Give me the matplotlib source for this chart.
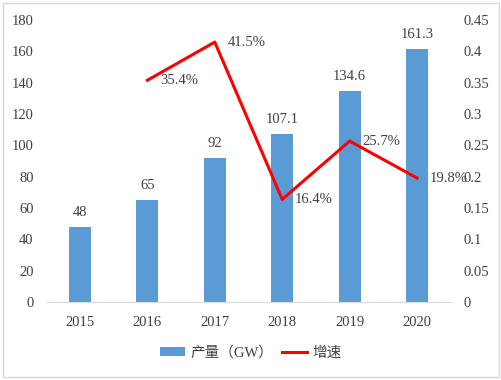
import matplotlib
matplotlib.use("Agg")
import matplotlib.pyplot as plt
from matplotlib.patches import Rectangle
from matplotlib.lines import Line2D
from matplotlib.patches import Patch

years = ["2015", "2016", "2017", "2018", "2019", "2020"]
output_gw = [48, 65, 92, 107.1, 134.6, 161.3]
output_labels = ["48", "65", "92", "107.1", "134.6", "161.3"]
growth_years = ["2016", "2017", "2018", "2019", "2020"]
growth = [0.354, 0.415, 0.164, 0.257, 0.198]
growth_labels = ["35.4%", "41.5%", "16.4%", "25.7%", "19.8%"]
left_ticks = [0, 20, 40, 60, 80, 100, 120, 140, 160, 180]
right_ticks = [0, 0.05, 0.1, 0.15, 0.2, 0.25, 0.3, 0.35, 0.4, 0.45]
right_tick_labels = ["0", "0.05", "0.1", "0.15", "0.2", "0.25", "0.3", "0.35", "0.4", "0.45"]

plt.rcParams['font.family'] = ['Liberation Serif', 'Noto Sans CJK SC']
txt = '#404040'
fig = plt.figure(figsize=(5.02, 3.80), dpi=100)
fig.patches.append(Rectangle((0.006, 0.008), 0.988, 0.984, transform=fig.transFigure,
                             fill=False, edgecolor='#d9d9d9', linewidth=1.0))
ax = fig.add_axes([0.092, 0.205, 0.806, 0.742])
x = list(range(len(years)))
ax.bar(x, output_gw, width=0.33, color='#5b9bd5', zorder=2)
for xi, v, lab in zip(x, output_gw, output_labels):
    ax.annotate(lab, (xi, v), xytext=(0, 6), textcoords='offset points',
                ha='center', va='bottom', fontsize=10.5, color=txt)
ax.set_xlim(-0.5, len(years) - 0.5)
ax.set_ylim(0, 180)
ax.set_yticks(left_ticks)
ax.set_xticks(x)
ax.set_xticklabels(years)
for s in ['top', 'left', 'right']:
    ax.spines[s].set_visible(False)
ax.spines['bottom'].set_color('#d9d9d9')
ax.tick_params(axis='both', length=0, labelsize=10.5, colors=txt, pad=9)
ax.tick_params(axis='x', pad=10)

ax2 = ax.twinx()
gx = [years.index(y) for y in growth_years]
ax2.plot(gx, growth, color='#ff0000', linewidth=2.2, zorder=3)
for xi, v, lab in zip(gx, growth, growth_labels):
    ax2.annotate(lab, (xi, v), xytext=(9, 0), textcoords='offset points',
                 ha='left', va='center', fontsize=10.5, color=txt)
ax2.set_ylim(0, 0.45)
ax2.set_yticks(right_ticks)
ax2.set_yticklabels(right_tick_labels)
for s in ['top', 'left', 'right', 'bottom']:
    ax2.spines[s].set_visible(False)
ax2.tick_params(axis='y', length=0, labelsize=10.5, colors=txt, pad=9)

handles = [Patch(facecolor='#5b9bd5', edgecolor='none'),
           Line2D([0], [0], color='#ff0000', linewidth=2.2)]
fig.legend(handles, ['产量（GW）', '增速'], loc='center', bbox_to_anchor=(0.5, 0.072),
           ncol=2, frameon=False, fontsize=10.5, handlelength=1.7, handleheight=0.6,
           columnspacing=0.6, handletextpad=0.4, labelcolor=txt)
fig.savefig('out.png', dpi=100)
